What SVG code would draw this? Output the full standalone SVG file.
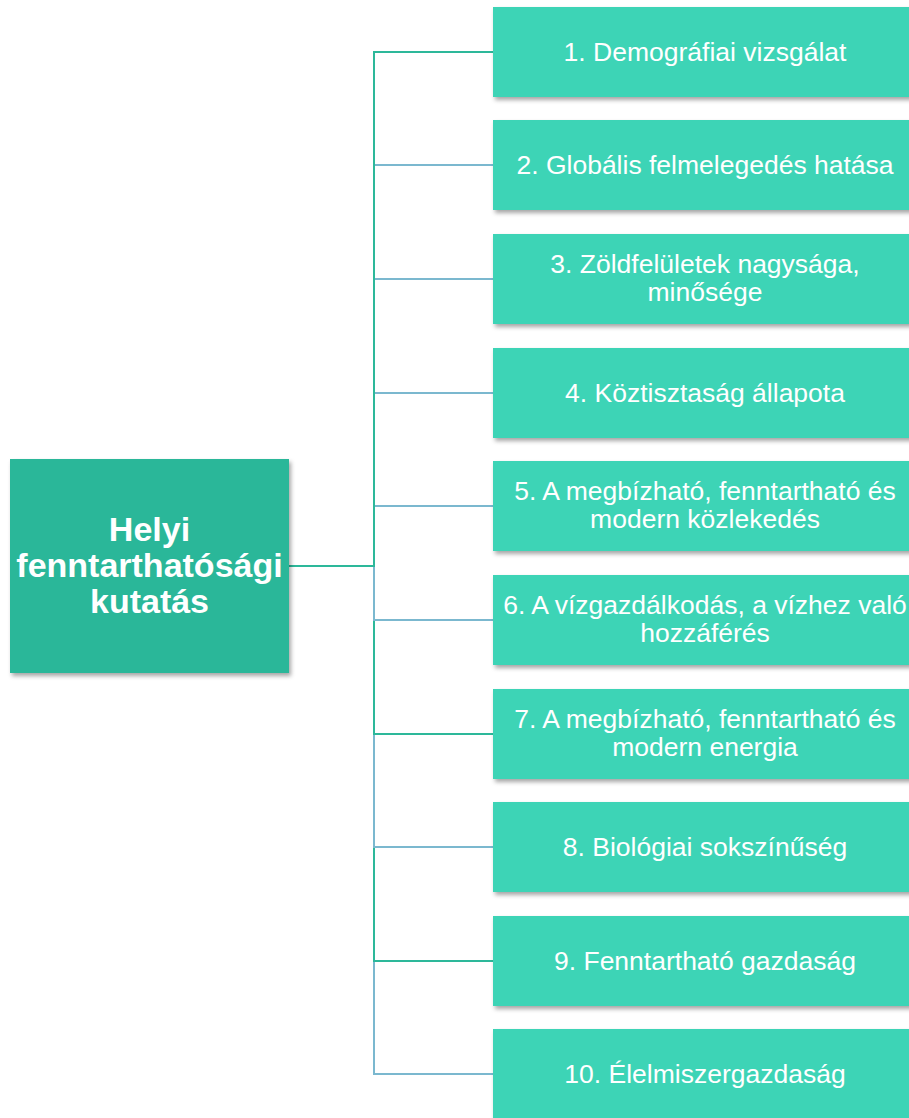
<svg xmlns="http://www.w3.org/2000/svg" width="909" height="1118" viewBox="0 0 909 1118">
<defs>
<filter id="sh" x="-10%" y="-10%" width="125%" height="135%">
<feDropShadow dx="2" dy="3" stdDeviation="2" flood-color="#000" flood-opacity="0.35"/>
</filter>
<style>
.child{fill:#3dd4b6;filter:url(#sh)}
.root{fill:#2bb799;filter:url(#sh)}
.ct{font-family:"Liberation Sans",Arial,sans-serif;font-size:26.5px;fill:#ffffff;text-anchor:middle}
.rt{font-family:"Liberation Sans",Arial,sans-serif;font-size:34px;font-weight:bold;fill:#ffffff;text-anchor:middle}
.c{fill:none;stroke-width:2}
.teal{stroke:#2db89a}
.blue{stroke:#7bb8cf}
</style>
</defs>
<rect width="909" height="1118" fill="#ffffff"/>
<g id="connectors">
<path class="c blue" d="M289,566 H374 V1074 H493"/>
<path class="c teal" d="M289,566 H374 V961 H493"/>
<path class="c blue" d="M289,566 H374 V847 H493"/>
<path class="c teal" d="M289,566 H374 V734 H493"/>
<path class="c blue" d="M289,566 H374 V620 H493"/>
<path class="c blue" d="M289,566 H374 V506 H493"/>
<path class="c blue" d="M289,566 H374 V393 H493"/>
<path class="c blue" d="M289,566 H374 V279 H493"/>
<path class="c blue" d="M289,566 H374 V165 H493"/>
<path class="c teal" d="M289,566 H374 V52 H493"/>
</g>
<g id="root">
<rect class="root" x="10" y="459" width="279" height="214"/>
<text class="rt" x="149.5" y="541">Helyi</text>
<text class="rt" x="149.5" y="577">fenntarthatósági</text>
<text class="rt" x="149.5" y="613">kutatás</text>
</g>
<g id="n1">
<rect class="child" x="493" y="7" width="424" height="90"/>
<text class="ct" x="705" y="61">1. Demográfiai vizsgálat</text>
</g>
<g id="n2">
<rect class="child" x="493" y="120" width="424" height="90"/>
<text class="ct" x="705" y="174">2. Globális felmelegedés hatása</text>
</g>
<g id="n3">
<rect class="child" x="493" y="234" width="424" height="90"/>
<text class="ct" x="705" y="273">3. Zöldfelületek nagysága,</text>
<text class="ct" x="705" y="301">minősége</text>
</g>
<g id="n4">
<rect class="child" x="493" y="348" width="424" height="90"/>
<text class="ct" x="705" y="402">4. Köztisztaság állapota</text>
</g>
<g id="n5">
<rect class="child" x="493" y="461" width="424" height="90"/>
<text class="ct" x="705" y="500">5. A megbízható, fenntartható és</text>
<text class="ct" x="705" y="528">modern közlekedés</text>
</g>
<g id="n6">
<rect class="child" x="493" y="575" width="424" height="90"/>
<text class="ct" x="705" y="614">6. A vízgazdálkodás, a vízhez való</text>
<text class="ct" x="705" y="642">hozzáférés</text>
</g>
<g id="n7">
<rect class="child" x="493" y="689" width="424" height="90"/>
<text class="ct" x="705" y="728">7. A megbízható, fenntartható és</text>
<text class="ct" x="705" y="756">modern energia</text>
</g>
<g id="n8">
<rect class="child" x="493" y="802" width="424" height="90"/>
<text class="ct" x="705" y="856">8. Biológiai sokszínűség</text>
</g>
<g id="n9">
<rect class="child" x="493" y="916" width="424" height="90"/>
<text class="ct" x="705" y="970">9. Fenntartható gazdaság</text>
</g>
<g id="n10">
<rect class="child" x="493" y="1029" width="424" height="90"/>
<text class="ct" x="705" y="1083">10. Élelmiszergazdaság</text>
</g>
</svg>
